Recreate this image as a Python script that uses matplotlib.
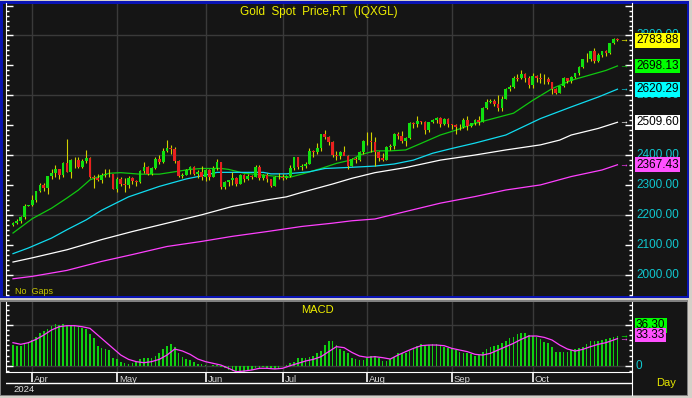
import matplotlib.pyplot as plt
import numpy as np
import pandas as pd
from matplotlib.patches import Rectangle

plt.rcParams['font.family'] = ['Liberation Sans', 'DejaVu Sans']

# trading days shown (Jul 4 missing in the feed)
dates = pd.bdate_range('2024-03-25', '2024-10-31')
dates = dates[dates != pd.Timestamp('2024-07-04')]

opens = [2165, 2172, 2179, 2194, 2230, 2232, 2251, 2280, 2300, 2290,
         2329, 2339, 2352, 2333, 2372, 2344, 2382, 2383, 2361, 2379,
         2391, 2327, 2322, 2316, 2332, 2337, 2336, 2286, 2320, 2303,
         2301, 2323, 2314, 2309, 2346, 2360, 2336, 2358, 2386, 2376,
         2415, 2425, 2421, 2379, 2329, 2334, 2351, 2361, 2338, 2343,
         2327, 2350, 2326, 2355, 2376, 2294, 2311, 2316, 2324, 2303,
         2333, 2319, 2330, 2328, 2360, 2322, 2334, 2319, 2298, 2327,
         2326, 2323, 2330, 2357, 2392, 2359, 2364, 2371, 2415, 2411,
         2422, 2469, 2459, 2445, 2400, 2396, 2409, 2397, 2364, 2387,
         2384, 2410, 2448, 2446, 2443, 2410, 2390, 2383, 2427, 2431,
         2472, 2465, 2447, 2456, 2507, 2504, 2514, 2512, 2484, 2512,
         2518, 2524, 2504, 2520, 2503, 2500, 2493, 2495, 2517, 2497,
         2506, 2516, 2512, 2558, 2578, 2582, 2570, 2559, 2587, 2622,
         2629, 2657, 2657, 2672, 2658, 2634, 2663, 2659, 2656, 2653,
         2643, 2622, 2608, 2631, 2657, 2649, 2662, 2674, 2693, 2721,
         2720, 2748, 2715, 2736, 2747, 2743, 2774, 2788]
highs = [2176, 2185, 2195, 2236, 2234, 2265, 2280, 2305, 2305, 2330,
         2354, 2365, 2354, 2378, 2455, 2386, 2392, 2395, 2386, 2417,
         2392, 2334, 2336, 2339, 2352, 2353, 2337, 2326, 2326, 2323,
         2331, 2327, 2318, 2351, 2378, 2364, 2360, 2392, 2400, 2422,
         2450, 2432, 2427, 2385, 2340, 2352, 2364, 2363, 2351, 2362,
         2354, 2354, 2364, 2387, 2378, 2314, 2317, 2342, 2327, 2336,
         2335, 2336, 2334, 2368, 2368, 2337, 2339, 2320, 2330, 2339,
         2338, 2334, 2365, 2392, 2393, 2370, 2376, 2424, 2418, 2440,
         2469, 2483, 2463, 2446, 2413, 2412, 2431, 2400, 2390, 2393,
         2413, 2451, 2477, 2477, 2461, 2413, 2406, 2430, 2437, 2474,
         2477, 2479, 2460, 2509, 2510, 2531, 2515, 2514, 2512, 2520,
         2526, 2528, 2525, 2524, 2504, 2504, 2503, 2523, 2529, 2507,
         2519, 2529, 2560, 2586, 2589, 2589, 2600, 2598, 2625, 2634,
         2664, 2670, 2685, 2674, 2665, 2673, 2667, 2673, 2671, 2660,
         2644, 2625, 2632, 2662, 2658, 2665, 2675, 2697, 2722, 2740,
         2749, 2758, 2740, 2749, 2751, 2774, 2790, 2790]
lows = [2163, 2169, 2172, 2186, 2228, 2228, 2243, 2275, 2280, 2268,
        2321, 2325, 2320, 2326, 2342, 2324, 2355, 2356, 2358, 2373,
        2323, 2291, 2312, 2307, 2328, 2325, 2285, 2277, 2297, 2277,
        2291, 2303, 2297, 2306, 2339, 2334, 2333, 2354, 2370, 2373,
        2410, 2404, 2375, 2326, 2324, 2333, 2335, 2334, 2323, 2315,
        2314, 2315, 2325, 2350, 2287, 2286, 2298, 2300, 2295, 2302,
        2310, 2315, 2321, 2325, 2316, 2318, 2310, 2293, 2297, 2319,
        2318, 2319, 2328, 2350, 2353, 2351, 2358, 2370, 2392, 2402,
        2412, 2453, 2435, 2393, 2384, 2386, 2406, 2353, 2364, 2375,
        2381, 2405, 2432, 2410, 2364, 2379, 2381, 2382, 2417, 2421,
        2455, 2440, 2431, 2455, 2490, 2495, 2503, 2470, 2478, 2506,
        2506, 2494, 2500, 2493, 2488, 2472, 2484, 2490, 2485, 2495,
        2500, 2501, 2510, 2555, 2574, 2564, 2547, 2546, 2586, 2614,
        2624, 2648, 2655, 2643, 2624, 2624, 2645, 2642, 2636, 2636,
        2605, 2604, 2606, 2627, 2640, 2641, 2659, 2669, 2690, 2712,
        2716, 2708, 2712, 2729, 2730, 2739, 2770, 2780]
closes = [2172, 2179, 2194, 2230, 2233, 2251, 2280, 2300, 2290, 2329,
          2339, 2352, 2333, 2372, 2344, 2383, 2383, 2361, 2379, 2391,
          2327, 2322, 2316, 2332, 2337, 2336, 2286, 2320, 2303, 2301,
          2323, 2314, 2309, 2346, 2360, 2336, 2358, 2386, 2376, 2415,
          2425, 2421, 2379, 2329, 2334, 2351, 2361, 2338, 2343, 2327,
          2350, 2326, 2355, 2376, 2294, 2311, 2316, 2324, 2303, 2333,
          2319, 2330, 2328, 2360, 2322, 2334, 2319, 2298, 2327, 2326,
          2323, 2330, 2356, 2392, 2359, 2364, 2371, 2415, 2411, 2422,
          2469, 2459, 2445, 2400, 2396, 2409, 2397, 2364, 2387, 2384,
          2410, 2448, 2446, 2443, 2410, 2390, 2383, 2427, 2431, 2472,
          2465, 2447, 2456, 2507, 2504, 2514, 2512, 2484, 2512, 2518,
          2524, 2504, 2520, 2503, 2500, 2493, 2495, 2517, 2497, 2506,
          2516, 2512, 2558, 2578, 2582, 2570, 2559, 2587, 2622, 2629,
          2657, 2656, 2672, 2658, 2634, 2663, 2659, 2656, 2653, 2643,
          2622, 2608, 2631, 2657, 2649, 2662, 2674, 2693, 2721, 2720,
          2748, 2715, 2736, 2747, 2743, 2774, 2788, 2783.88]

# moving averages read at sample bars (bar index, value)
ma20_idx = [0, 5, 10, 14, 17, 20, 23, 25, 28, 33, 38, 42, 46, 49, 54, 56, 60, 65, 69, 72,
            75, 80, 84, 88, 90, 94, 98, 102, 106, 111, 115, 120, 130, 135, 140, 145, 151, 154, 157]
ma20 = [2139, 2187, 2222, 2256, 2283, 2317, 2331, 2339, 2341, 2336, 2336, 2344, 2352, 2355, 2355,
        2352, 2339, 2333, 2328, 2326, 2336, 2355, 2372, 2384, 2400, 2414, 2414, 2417, 2439, 2467,
        2483, 2506, 2540, 2583, 2622, 2650, 2672, 2683, 2698.13]
ma50_idx = [0, 4, 10, 14, 19, 23, 30, 38, 45, 50, 53, 65, 67, 71, 77, 81, 88, 94, 99, 104,
            109, 114, 120, 128, 137, 145, 152, 157]
ma50 = [2070, 2089, 2122, 2150, 2183, 2215, 2260, 2295, 2320, 2333, 2342, 2342, 2337, 2337, 2344,
        2355, 2359, 2363, 2370, 2383, 2406, 2422, 2440, 2467, 2522, 2561, 2594, 2620.29]
ma100_idx = [0, 5, 14, 23, 31, 40, 49, 57, 66, 71, 75, 83, 88, 94, 102, 111, 120, 128, 137,
             142, 145, 152, 157]
ma100 = [2042, 2056, 2083, 2117, 2144, 2172, 2200, 2228, 2250, 2260, 2275, 2303, 2322, 2341,
         2358, 2383, 2400, 2417, 2434, 2450, 2467, 2489, 2509.60]
ma200_idx = [0, 5, 14, 23, 31, 40, 49, 57, 66, 75, 83, 88, 94, 102, 111, 120, 128, 137, 145,
             153, 157]
ma200 = [1986, 1994, 2014, 2044, 2067, 2094, 2111, 2128, 2144, 2161, 2172, 2180, 2186, 2211,
         2239, 2261, 2283, 2300, 2328, 2350, 2367.43]

macd = [25.4, 24.6, 24.6, 26.2, 28.7, 31.6, 35.6, 40.6, 43.0, 45.0,
        49.2, 51.2, 50.4, 51.2, 49.2, 49.2, 49.2, 48.0, 46.6, 44.7,
        38.5, 33.6, 24.2, 21.3, 20.1, 19.3, 9.8, 8.2, 5.0, 3.8,
        2.1, 3.0, 5.0, 7.8, 9.1, 9.1, 9.9, 12.0, 15.3, 20.2,
        24.2, 26.3, 22.6, 16.1, 10.4, 7.9, 7.0, 5.0, 2.1, 1.7,
        0.8, -0.4, 0.8, 0.8, -1.2, -3.3, -4.9, -6.6, -7.4, -7.4,
        -7.4, -6.6, -5.7, -3.3, -2.5, -1.2, -2.5, -3.3, -4.1, -2.5,
        0.0, 0.8, 2.9, 5.0, 9.9, 9.9, 9.9, 11.3, 12.0, 15.3,
        18.1, 25.4, 30.3, 30.3, 25.4, 20.5, 18.0, 15.3, 9.9, 7.9,
        7.0, 7.0, 9.9, 12.0, 12.0, 9.1, 5.8, 5.8, 7.9, 11.2,
        15.3, 15.3, 16.1, 18.1, 22.2, 24.2, 26.3, 25.4, 25.4, 26.3,
        26.3, 25.4, 23.3, 22.2, 21.4, 19.3, 17.3, 16.1, 15.3, 14.1,
        12.0, 13.3, 17.3, 20.2, 23.3, 24.2, 25.4, 27.5, 30.3, 33.6,
        35.6, 38.5, 40.5, 40.5, 37.7, 36.4, 34.8, 32.3, 29.5, 28.2,
        23.3, 17.2, 16.5, 16.5, 17.2, 19.3, 20.2, 21.4, 23.3, 26.3,
        30.3, 30.3, 30.3, 31.5, 32.3, 33.6, 35.6, 36.30]
sig_idx = [0, 2, 4, 6, 8, 10, 12, 14, 16, 18, 20, 22, 24, 26, 28, 30, 32, 34, 36, 38,
           40, 42, 44, 46, 48, 50, 52, 54, 56, 58, 60, 62, 64, 66, 68, 70, 72, 74, 76, 78,
           80, 82, 84, 86, 88, 90, 92, 94, 96, 98, 100, 102, 104, 106, 108, 110, 112, 114,
           116, 118, 120, 122, 124, 126, 128, 130, 132, 134, 136, 138, 140, 142, 144, 146,
           148, 150, 152, 154, 156, 157]
signal = [28.3, 26.3, 28.3, 32.4, 37.7, 43.9, 47.9, 49.2, 49.2, 47.9, 45.9, 37.7, 29.5, 21.3,
          13.1, 7.8, 5.0, 3.7, 5.0, 7.8, 13.1, 20.5, 18.1, 14.0, 8.2, 5.0, 2.9, 0.8, -3.2, -7.4,
          -6.6, -5.3, -3.2, -3.2, -4.0, -3.2, 0.0, 2.9, 5.8, 7.8, 11.1, 17.3, 23.4, 22.2, 16.4,
          11.9, 10.3, 11.1, 9.9, 8.2, 13.1, 17.3, 21.3, 24.6, 25.4, 25.4, 24.6, 21.3, 19.3, 17.3,
          14.0, 13.1, 15.2, 19.3, 23.4, 27.5, 32.4, 36.5, 36.5, 34.8, 31.6, 25.4, 20.5, 18.0,
          20.1, 23.4, 26.3, 28.3, 31.6, 33.33]

W, H = 692, 398
BG = '#151515'


def frect(x0, y0, x1, y1):
    return [x0 / W, 1 - y1 / H, (x1 - x0) / W, (y1 - y0) / H]


fig = plt.figure(figsize=(W / 100, H / 100), dpi=100, facecolor='#d4d0c8')
for (x0, y0, x1, y1), c in [((0, 1, 689, 298), '#0a14b4'), ((3, 3.5, 687, 295.5), BG),
                            ((0, 300, 688, 396), '#808080'), ((1, 301.5, 687, 395), BG)]:
    fig.add_artist(Rectangle((x0 / W, 1 - y1 / H), (x1 - x0) / W, (y1 - y0) / H,
                             transform=fig.transFigure, color=c, lw=0, zorder=-5))

ax = fig.add_axes(frect(6, 3.5, 632, 295.5), facecolor=BG)
ax2 = fig.add_axes(frect(6, 302, 632, 372.3), facecolor=BG)
ax3 = fig.add_axes(frect(6, 372.3, 632, 395))
ax3.patch.set_alpha(0)

x = np.arange(len(dates))
xlim = ((6 - 13) / 3.85, (632 - 13) / 3.85)
months = [i for i in range(1, len(dates)) if dates[i].month != dates[i - 1].month]

# --- price panel ---
o, h, l, c = map(np.array, (opens, highs, lows, closes))
up = c >= o
ax.vlines(x, l, h, color='#d0d000', lw=0.8, zorder=3)
body = np.maximum(np.abs(c - o), 1.5)
ax.bar(x, body, bottom=np.minimum(o, c), width=0.72,
       color=np.where(up, '#10e010', '#e82020'), lw=0, zorder=4)

ma_lines = [(ma20_idx, ma20, '#10c810', '#00ff00'), (ma50_idx, ma50, '#10dcf0', '#00ffff'),
            (ma100_idx, ma100, '#ffffff', '#ffffff'), (ma200_idx, ma200, '#ff40ff', '#ff50ff')]
for idx, vals, lc, bc in ma_lines:
    ax.plot(idx, vals, color=lc, lw=0.9, zorder=2)

ax.set_xlim(*xlim)
ax.set_ylim(1930, 2907)
for m in months:
    ax.axvline(m, color='#3a3a3a', lw=1, zorder=0)
for v in range(2000, 2900, 200):
    ax.axhline(v, color='#3a3a3a', lw=1, zorder=0)

ytr = ax.get_yaxis_transform()
lx = 1 + 4 / 626
for v in range(2000, 2900, 100):
    ax.text(lx, v, f'{v:.2f}', transform=ytr, color='#10c8d0', fontsize=8.5,
            va='center', ha='left', clip_on=False, zorder=1)
boxes = [(closes[-1], '#ffff00')] + [(vals[-1], bc) for idx, vals, lc, bc in ma_lines]
arrow_cols = ['#ffff00', '#10c810', '#10dcf0', '#ffffff', '#ff40ff']
for (v, bc), ac in zip(boxes, arrow_cols):
    ax.text(lx, v, f'{v:.2f}', transform=ytr, color='black', fontsize=8.5, va='center',
            ha='left', clip_on=False, zorder=6,
            bbox=dict(boxstyle='square,pad=0.12', fc=bc, ec='none'))
    ax.text(618 / 626, v, '→', transform=ytr, color=ac, fontsize=6.5, va='center',
            ha='center', clip_on=False, zorder=6)

ax.text(312.5 / 626, 1 - 8.5 / 292, 'Gold  Spot  Price,RT  (IQXGL)', transform=ax.transAxes,
        color='#f0f000', fontsize=8.5, ha='center', va='center')
ax.text(9 / 626, 1.5 / 292, 'No  Gaps', transform=ax.transAxes, color='#c8c800',
        fontsize=6.5, ha='left', va='baseline')

# --- MACD panel ---
ax2.bar(x, macd, width=0.42, color='#10d010', lw=0, zorder=3)
ax2.plot(sig_idx, signal, color='#ff40ff', lw=0.9, zorder=4)
ax2.set_xlim(*xlim)
ax2.set_ylim(-8.1, 78.3)
for m in months:
    ax2.axvline(m, color='#3a3a3a', lw=1, zorder=0)
for v in (0, 50):
    ax2.axhline(v, color='#3a3a3a', lw=1, zorder=0)
ax2.text(311 / 626, 1 - 8 / 70.3, 'MACD', transform=ax2.transAxes, color='#f0f000',
         fontsize=8, ha='center', va='center')
ytr2 = ax2.get_yaxis_transform()
ax2.text(lx, 0, '0', transform=ytr2, color='#10c8d0', fontsize=8.5, va='center',
         ha='left', clip_on=False)
for v, bc, shift in [(macd[-1], '#00ff00', 7.8), (signal[-1], '#ff50ff', 2.8)]:
    ax2.annotate(f'{v:.2f}', (lx, v), xycoords=ytr2, xytext=(0, shift),
                 textcoords='offset points', color='black', fontsize=8.5, va='center',
                 ha='left', annotation_clip=False, zorder=6,
                 bbox=dict(boxstyle='square,pad=0.1', fc=bc, ec='none'))
    ax2.text(618 / 626, v, '→', transform=ytr2, color=bc, fontsize=6.5, va='center',
             ha='center', clip_on=False, zorder=6)

# --- date strip ---
ax3.set_xlim(*xlim)
ax3.set_ylim(0, 1)
ax3.axhline(11.7 / 22.7, color='white', lw=1)
ax3.vlines(months, 13 / 22.7, 1, color='white', lw=1.2)
for m in months:
    ax3.text(m + 0.55, 13.2 / 22.7, dates[m].strftime('%b'), color='#d8d8d8',
             fontsize=6.8, ha='left', va='baseline', clip_on=True)
ax3.text(0.2, 5 / 22.7, '2024', color='#e0e0e0', fontsize=6.8, ha='left', va='center')
fig.text(656 / W, 1 - 383 / H, 'Day', color='#e8e800', fontsize=8, ha='left', va='center')

for a in (ax, ax2, ax3):
    for s in a.spines.values():
        s.set_visible(False)
    a.set_xticks([])
for a in (ax, ax2):
    a.spines['left'].set_visible(True)
    a.spines['right'].set_visible(True)
    a.spines['left'].set_color('white')
    a.spines['right'].set_color('white')
ax2.spines['bottom'].set_visible(True)
ax2.spines['bottom'].set_color('white')
ax3.spines['right'].set_visible(True)
ax3.spines['right'].set_color('white')
ax3.set_yticks([])

ax.yaxis.set_major_locator(plt.MultipleLocator(100))
ax.yaxis.set_minor_locator(plt.MultipleLocator(100 / 6))
ax2.yaxis.set_major_locator(plt.MultipleLocator(50))
ax2.yaxis.set_minor_locator(plt.MultipleLocator(50 / 8))
for a in (ax, ax2):
    a.tick_params(axis='y', which='both', direction='in', color='white', left=True,
                  right=True, labelleft=False, labelright=False)
    a.tick_params(axis='y', which='major', length=5, width=1)
    a.tick_params(axis='y', which='minor', length=2.5, width=1)

fig.savefig('out.png', dpi=100, facecolor=fig.get_facecolor())
